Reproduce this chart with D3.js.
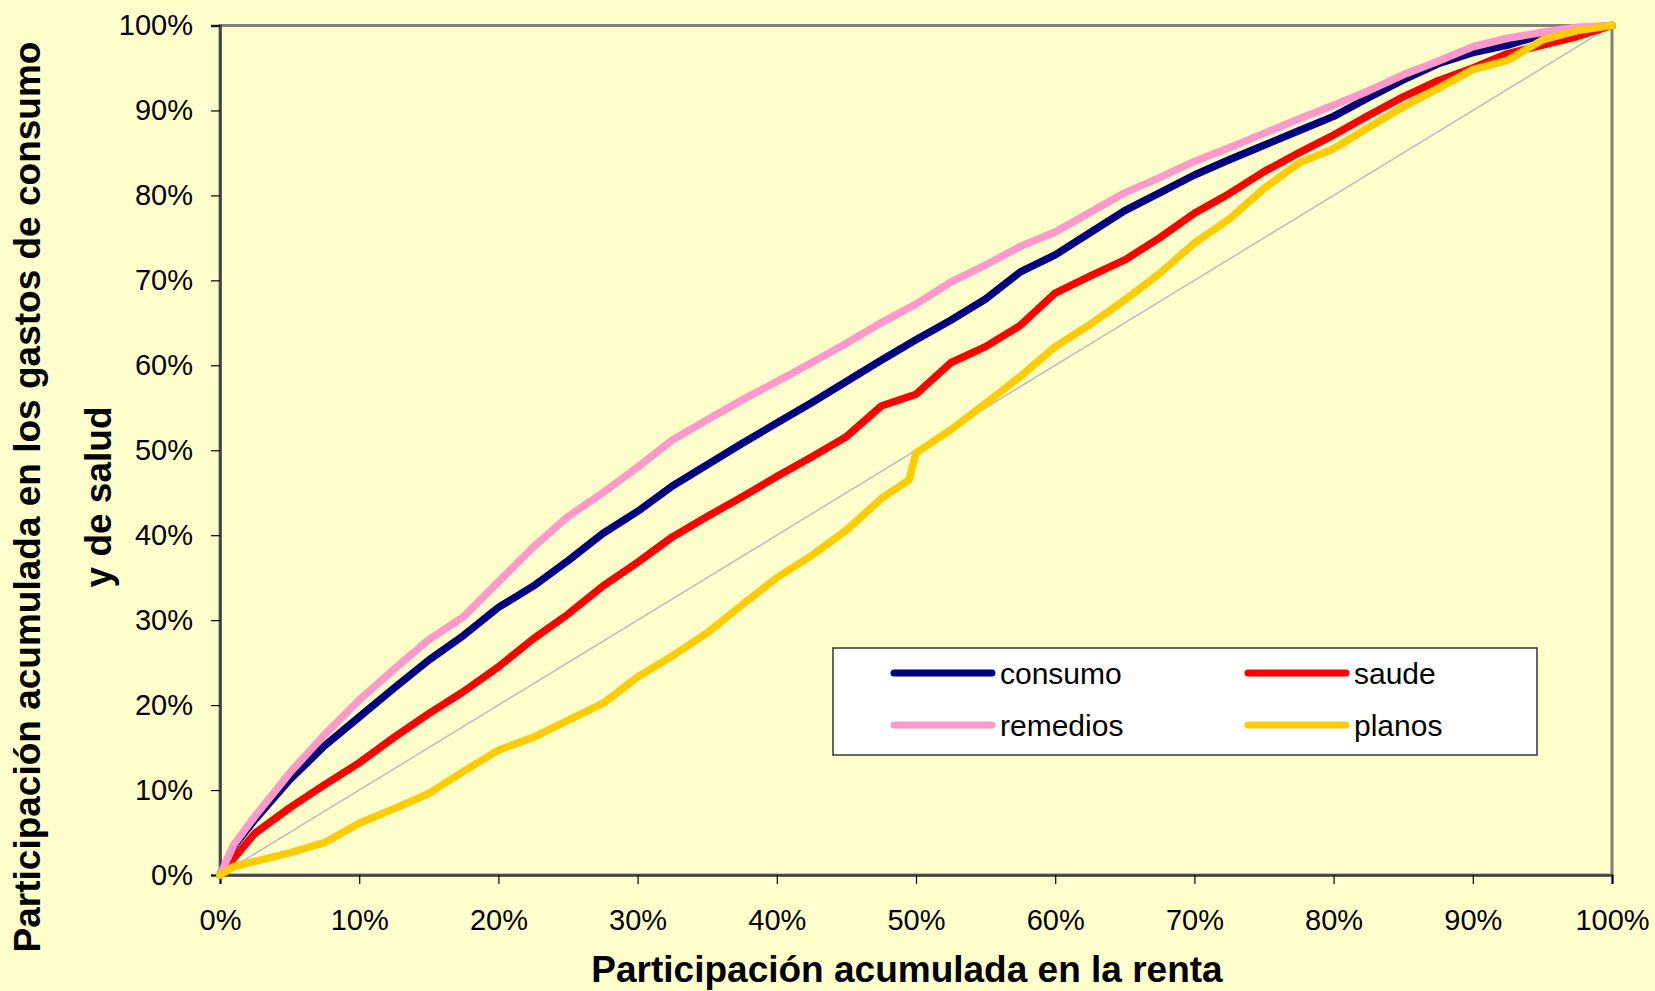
<!DOCTYPE html>
<html>
<head>
<meta charset="utf-8">
<script src="https://cdn.jsdelivr.net/npm/d3@7"></script>
<style>
  body { margin: 0; background: #FFFFCC; }
  svg { display: block; font-family: Arial, "Liberation Sans", sans-serif; }
  .tick text { font-size: 29px; fill: #000; }
</style>
</head>
<body>
<div id="chart"></div>
<script>
// Chart values (all in percent)
var shareX = [0, 1, 2.5, 5, 7.5, 10, 12.5, 15, 17.5, 20, 22.5, 25, 27.5, 30, 32.5, 35, 37.5, 40, 42.5, 45, 47.5,
  50, 52.5, 55, 57.5, 60, 62.5, 65, 67.5, 70, 72.5, 75, 77.5, 80, 82.5, 85, 87.5, 90, 92.5, 95, 97.5, 100];

var consumo = [0, 3.4, 6.5, 11.2, 15.2, 18.6, 22, 25.3, 28.2, 31.5, 34, 37, 40.2, 42.8, 45.8, 48.3, 50.8, 53.2, 55.6, 58.1, 60.6,
  63, 65.3, 67.8, 71, 73, 75.6, 78.2, 80.3, 82.4, 84.2, 85.9, 87.6, 89.3, 91.5, 93.6, 95.5, 96.8, 97.7, 98.9, 99.6, 100];

var saude = [0, 2.0, 4.9, 7.9, 10.6, 13.2, 16.2, 19, 21.6, 24.5, 27.8, 30.7, 34, 36.8, 39.8, 42.2, 44.5, 46.9, 49.2, 51.6, 55.2,
  56.6, 60.3, 62.2, 64.7, 68.5, 70.5, 72.4, 75, 77.9, 80.2, 82.8, 85, 87.1, 89.4, 91.6, 93.5, 95, 96.7, 97.7, 98.7, 100];

var remedios = [0, 3.6, 6.9, 12, 16.5, 20.6, 24.2, 27.7, 30.4, 34.5, 38.6, 42.2, 45, 48, 51.2, 53.6, 55.9, 58.1, 60.3, 62.6, 65,
  67.2, 69.8, 71.8, 74, 75.7, 78, 80.3, 82.1, 84, 85.6, 87.3, 89, 90.6, 92.3, 94.2, 95.8, 97.5, 98.5, 99.2, 99.8, 100];

var planosX = [0, 1, 2.5, 5, 7.5, 10, 12.5, 15, 17.5, 20, 22.5, 25, 27.5, 30, 32.5, 35, 37.5, 40, 42.5, 45, 47.5, 49.5,
  50, 52.5, 55, 57.5, 60, 62.5, 65, 67.5, 70, 72.5, 75, 77.5, 80, 82.5, 85, 87.5, 90, 92.5, 95, 97.5, 100];
var planos = [0, 1.0, 1.6, 2.6, 3.8, 6.1, 7.8, 9.6, 12.2, 14.7, 16.2, 18.2, 20.2, 23.3, 25.8, 28.5, 31.8, 35, 37.6, 40.6, 44.3, 46.5,
  49.7, 52.4, 55.5, 58.7, 62.2, 64.8, 67.7, 70.8, 74.4, 77.2, 80.8, 83.8, 85.5, 88, 90.4, 92.6, 94.8, 95.9, 98.3, 99.4, 100];

// line of equality
var equalX = [0, 100];
var equalY = [0, 100];

var tickValues = [0, 10, 20, 30, 40, 50, 60, 70, 80, 90, 100];

var seriesNames = ["consumo", "saude", "remedios", "planos"];
var seriesColors = ["#000080", "#FF0000", "#FF99CC", "#FFCC00"];

// Setup
var width = 1655, height = 991;
var plot = { left: 220, right: 1612, top: 25.5, bottom: 875 };

var svg = d3.select("#chart").append("svg")
  .attr("width", width)
  .attr("height", height);

svg.append("rect")
  .attr("width", width).attr("height", height)
  .attr("fill", "#FFFFCC");

var x = d3.scaleLinear().domain([0, 100]).range([plot.left, plot.right]);
var y = d3.scaleLinear().domain([0, 100]).range([plot.bottom, plot.top]);

// plot area frame
svg.append("rect")
  .attr("x", plot.left).attr("y", plot.top)
  .attr("width", plot.right - plot.left)
  .attr("height", plot.bottom - plot.top)
  .attr("fill", "#FFFFCC")
  .attr("stroke", "#808080")
  .attr("stroke-width", 3);

// axes
var xAxis = svg.append("g")
  .attr("transform", "translate(0," + plot.bottom + ")")
  .call(d3.axisBottom(x).tickValues(tickValues).tickFormat(function(d) { return d + "%"; })
    .tickSize(9).tickPadding(25));

var yAxis = svg.append("g")
  .attr("transform", "translate(" + plot.left + ",0)")
  .call(d3.axisLeft(y).tickValues(tickValues).tickFormat(function(d) { return d + "%"; })
    .tickSize(9).tickPadding(18));

svg.selectAll(".domain").attr("stroke", "#404040").attr("stroke-width", 2.5);
svg.selectAll(".tick line").attr("stroke", "#000").attr("stroke-width", 1.2);
svg.selectAll(".tick text").style("font-family", "Arial, 'Liberation Sans', sans-serif");

// lines
var line = d3.line()
  .x(function(d) { return x(d[0]); })
  .y(function(d) { return y(d[1]); });

svg.append("path")
  .datum(d3.zip(equalX, equalY))
  .attr("d", line)
  .attr("fill", "none")
  .attr("stroke", "#C0C0C0")
  .attr("stroke-width", 1.6);

var seriesData = [
  d3.zip(shareX, consumo),
  d3.zip(shareX, saude),
  d3.zip(shareX, remedios),
  d3.zip(planosX, planos)
];

seriesData.forEach(function(data, i) {
  svg.append("path")
    .datum(data)
    .attr("d", line)
    .attr("fill", "none")
    .attr("stroke", seriesColors[i])
    .attr("stroke-width", 7.5)
    .attr("stroke-linejoin", "round")
    .attr("stroke-linecap", "round");
});

// legend
var legend = svg.append("g");
legend.append("rect")
  .attr("x", 833).attr("y", 648)
  .attr("width", 704).attr("height", 107)
  .attr("fill", "#FFFFFF")
  .attr("stroke", "#333333")
  .attr("stroke-width", 1.5);

var legendPos = [[894, 673], [1248, 673], [894, 725], [1248, 725]];
seriesNames.forEach(function(name, i) {
  var p = legendPos[i];
  legend.append("line")
    .attr("x1", p[0]).attr("x2", p[0] + 98)
    .attr("y1", p[1]).attr("y2", p[1])
    .attr("stroke", seriesColors[i])
    .attr("stroke-width", 7)
    .attr("stroke-linecap", "round");
  legend.append("text")
    .attr("x", p[0] + 106)
    .attr("y", p[1] + 11)
    .style("font-size", "30px")
    .text(name);
});

// axis titles
svg.append("text")
  .attr("x", 907).attr("y", 982)
  .attr("text-anchor", "middle")
  .style("font-size", "37px")
  .style("font-weight", "bold")
  .text("Participación acumulada en la renta");

var yTitle = svg.append("g")
  .attr("transform", "translate(0,497) rotate(-90)");
yTitle.append("text")
  .attr("x", 0).attr("y", 40)
  .attr("text-anchor", "middle")
  .style("font-size", "37px")
  .style("font-weight", "bold")
  .text("Participación acumulada en los gastos de consumo");
yTitle.append("text")
  .attr("x", 0).attr("y", 111)
  .attr("text-anchor", "middle")
  .style("font-size", "37px")
  .style("font-weight", "bold")
  .text("y de salud");
</script>
</body>
</html>
